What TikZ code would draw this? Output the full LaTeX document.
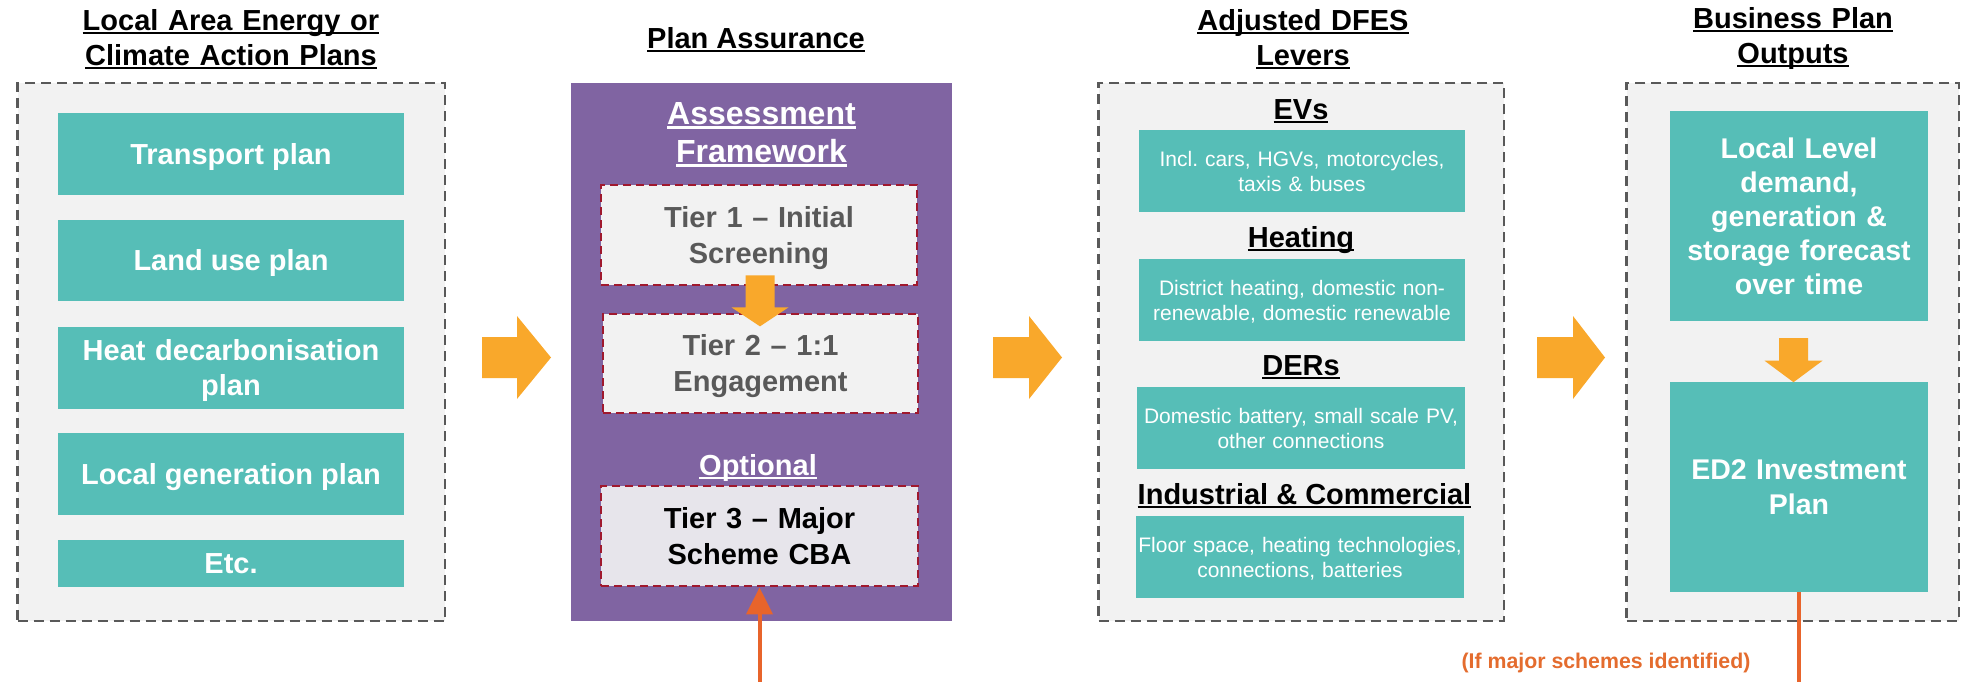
\documentclass[tikz,border=0pt]{standalone}
\usepackage{fontspec}
\setmainfont{Liberation Sans}
\usetikzlibrary{arrows.meta,calc}
\frenchspacing
\definecolor{tealc}{HTML}{56BEB7}
\definecolor{purplec}{HTML}{8064A2}
\definecolor{panelfill}{HTML}{F2F2F2}
\definecolor{panelborder}{HTML}{595959}
\definecolor{tierborder}{HTML}{A0192E}
\definecolor{tierfill}{HTML}{F2F2F2}
\definecolor{tierthree}{HTML}{E7E5EB}
\definecolor{tiertext}{HTML}{595959}
\definecolor{blockc}{HTML}{F9A82B}
\definecolor{linkc}{HTML}{E8642B}
\definecolor{labelc}{HTML}{E46C2E}
\newcommand\uln[1]{\leavevmode\setbox0\hbox{#1}\rlap{\smash{\rule[-0.12em]{\wd0}{0.08em}}}\box0}
\tikzset{
  panel/.style={draw=panelborder, fill=panelfill, line width=2.5pt, dash pattern=on 10pt off 6pt, inner sep=0pt},
  bigbold/.style={font=\bfseries\fontsize{29}{35}\selectfont},
  titletext/.style={bigbold, text=black, inner sep=0pt},
  one/.style={text height=20.8pt, text depth=0pt},
  lines/.style n args={3}{text width=#1, align=center, text height=#2, text depth=#3},
  tealbox/.style={fill=tealc, text=white, inner sep=0pt, bigbold},
  regtext/.style={font=\fontsize{21}{25}\selectfont},
  tier/.style={draw=tierborder, fill=tierfill, line width=2.8pt, dash pattern=on 8pt off 5pt, text=tiertext, inner sep=0pt, font=\bfseries\fontsize{29}{36}\selectfont, minimum width=316pt, minimum height=100pt},
  link/.style={draw=linkc, line width=4pt, -{Triangle[width=26pt,length=27pt]}},
  pics/rblock/.style n args={4}{code={\fill[blockc] (0,-#1) -- (#3,-#1) -- (#3,-#2) -- (#3+#4,0) -- (#3,#2) -- (#3,#1) -- (0,#1) -- cycle;}},
  pics/dblock/.style n args={4}{code={\fill[blockc] (-#1,0) -- (-#1,#3) -- (-#2,#3) -- (0,#3+#4) -- (#2,#3) -- (#1,#3) -- (#1,0) -- cycle;}},
}
\begin{document}
\begin{tikzpicture}[x=1pt,y=-1pt]
\useasboundingbox (0,0) rectangle (1962,681);
\clip (0,0) rectangle (1962,681);

% column titles
\node[titletext, lines={420pt}{20.8pt}{35pt}] (h1) at (231,38) {\uln{Local Area Energy or}\\\uln{Climate Action Plans}};
\node[titletext, one] (h2) at (756,38) {\uln{Plan Assurance}};
\node[titletext, lines={420pt}{20.8pt}{35.5pt}] (h3) at (1303,38) {\uln{Adjusted DFES}\\\uln{Levers}};
\node[titletext, lines={320pt}{20.8pt}{35pt}] (h4) at (1793,35.5) {\uln{Business Plan}\\\uln{Outputs}};

% panels
\node[panel, minimum width=427.5pt, minimum height=538pt] (p1) at (231.25,352) {};
\node[fill=purplec, inner sep=0pt, minimum width=381pt, minimum height=538pt] (p2) at (761.5,352) {};
\node[panel, minimum width=405.4pt, minimum height=538pt] (p3) at (1301.3,352) {};
\node[panel, minimum width=332.4pt, minimum height=538pt] (p4) at (1792.8,352) {};

% local plans
\node[tealbox, one, minimum width=346.5pt, minimum height=82pt] (l1) at (231,154) {Transport plan};
\node[tealbox, one, minimum width=346.5pt, minimum height=81pt] (l2) at (231,260.5) {Land use plan};
\node[tealbox, lines={340pt}{20.8pt}{35pt}, minimum width=346.5pt, minimum height=82pt] (l3) at (231,368) {Heat decarbonisation\\plan};
\node[tealbox, one, minimum width=346.5pt, minimum height=82pt] (l4) at (231,474) {Local generation plan};
\node[tealbox, one, minimum width=346.5pt, minimum height=47pt] (l5) at (231,563.5) {Etc.};

% plan assurance
\node[inner sep=0pt, text=white, font=\bfseries\fontsize{32}{38}\selectfont, lines={360pt}{22.9pt}{38pt}] (af) at (761.5,132.5) {\uln{Assessment}\\\uln{Framework}};
\node[tier, lines={300pt}{20.8pt}{36pt}] (t1) at (759,235) {Tier 1 -- Initial\\Screening};
\node[tier, lines={300pt}{20.8pt}{36pt}, minimum width=315pt, minimum height=99pt] (t2) at (760.5,363.5) {Tier 2 -- 1:1\\Engagement};
\node[titletext, one, text=white] (opt) at (758,465) {\uln{Optional}};
\node[tier, fill=tierthree, text=black, lines={300pt}{20.8pt}{36pt}, minimum width=317pt] (t3) at (759.5,536) {Tier 3 -- Major\\Scheme CBA};

% DFES levers
\node[titletext, one] (ev) at (1301,109) {\uln{EVs}};
\node[tealbox, regtext, lines={326pt}{15pt}{25pt}, minimum width=326pt, minimum height=82pt] (evb) at (1302,171) {\makebox[320pt]{Incl. cars, HGVs, motorcycles,}\\taxis \& buses};
\node[titletext, one] (ht) at (1301,237.5) {\uln{Heating}};
\node[tealbox, regtext, lines={326pt}{15pt}{25pt}, minimum width=326pt, minimum height=82pt] (htb) at (1302,300) {\makebox[320pt]{District heating, domestic non-}\\\makebox[320pt]{renewable, domestic renewable}};
\node[titletext, one] (der) at (1301,365.5) {\uln{DERs}};
\node[tealbox, regtext, lines={326pt}{15pt}{25pt}, minimum width=328pt, minimum height=82pt] (derb) at (1301,428) {\makebox[320pt]{Domestic battery, small scale PV,}\\other connections};
\node[titletext, one] (ic) at (1304.5,494.5) {\uln{Industrial \& Commercial}};
\node[tealbox, regtext, lines={326pt}{15pt}{25pt}, minimum width=328pt, minimum height=82pt] (icb) at (1300,557) {\makebox[320pt]{Floor space, heating technologies,}\\connections, batteries};

% business plan outputs
\node[tealbox, font=\bfseries\fontsize{28.5}{34}\selectfont, lines={250pt}{20.4pt}{136pt}, minimum width=258pt, minimum height=210pt] (ll) at (1799,216) {Local Level\\demand,\\generation \&\\storage forecast\\over time};
\node[tealbox, font=\bfseries\fontsize{28.5}{35}\selectfont, lines={250pt}{20.4pt}{35pt}, minimum width=258pt, minimum height=210pt] (ed2) at (1799,487) {ED2 Investment\\Plan};

% block arrows
\pic (a1) at (482,357.5) {rblock={20.5}{41.5}{35}{34}};
\pic (a2) at (993,357.5) {rblock={20.5}{41.5}{36}{33}};
\pic (a3) at (1537,357.5) {rblock={20.5}{41.5}{36}{32}};
\pic (a4) at ($(t1.south)+(1,-11)$) {dblock={14.5}{28.5}{32}{19}};
\pic (a5) at ($(ll.south)+(-5.5,17)$) {dblock={14.5}{29}{22.5}{21.5}};

% feedback connector
\draw[link] (ed2.south) -- ++(0,120) -| (t3.south);
\node[inner sep=0pt, text=labelc, font=\bfseries\fontsize{21.3}{25}\selectfont, text height=15.3pt, text depth=0pt] (lab) at (1606,661) {(If major schemes identified)};
\end{tikzpicture}
\end{document}
